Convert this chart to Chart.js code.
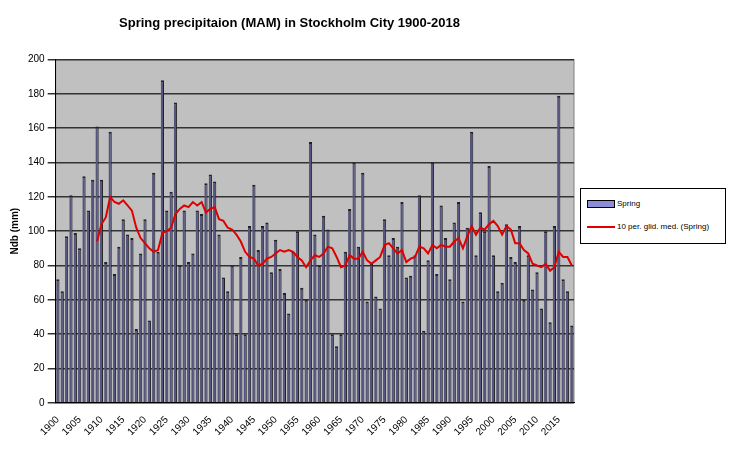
<!DOCTYPE html>
<html>
<head>
<meta charset="utf-8">
<script src="https://cdn.jsdelivr.net/npm/chart.js@4"></script>
<style>
  body { margin: 0; background: #fff; font-family: Arial, "Liberation Sans", sans-serif; }
  #wrap { position: relative; width: 732px; height: 449px; }
  #legend { position: absolute; left: 580px; top: 188px; width: 146px; height: 56px; border: 1px solid #000;
            font-size: 8px; box-sizing: border-box; background: #fff; }
  .row { position: absolute; left: 6px; display: flex; align-items: center; }
  .sw { width: 26px; height: 6px; background: #8c8cd8; border: 1px solid #000; margin-right: 2px; }
  .ln { width: 28px; height: 2px; background: #e00000; margin-right: 2px; }
</style>
</head>
<body>
<div id="wrap">
  <canvas id="c" width="732" height="449"></canvas>
  <div id="legend">
    <div class="row" style="top:10px"><span class="sw"></span>Spring</div>
    <div class="row" style="top:33px"><span class="ln"></span>10 per. glid. med. (Spring)</div>
  </div>
</div>
<script>
// Years 1900-2018
const years = [];
for (let y = 1900; y <= 2018; y++) years.push(String(y));

// Spring (MAM) precipitation, mm
const spring = [
  72, 65, 97, 121, 99, 90, 132, 112, 130, 161,
  130, 82, 158, 75, 91, 107, 98, 96, 43, 87,
  107, 48, 134, 88, 188, 112, 123, 175, 80, 112,
  82, 87, 112, 110, 128, 133, 129, 98, 73, 65,
  80, 40, 85, 40, 103, 127, 89, 103, 105, 76,
  95, 78, 64, 52, 88, 100, 67, 60, 152, 98,
  80, 109, 101, 40, 33, 40, 88, 113, 140, 91,
  134, 59, 81, 62, 55, 107, 86, 96, 91, 117,
  73, 74, 86, 121, 42, 83, 140, 75, 115, 96,
  72, 105, 117, 59, 102, 158, 86, 111, 100, 138,
  86, 65, 70, 104, 85, 82, 103, 60, 86, 66,
  76, 55, 100, 47, 103, 179, 72, 65, 45
];

// 10 period moving median, starts 1909
const median10 = [
  null, null, null, null, null, null, null, null, null, 94,
  104, 108, 120, 117, 116, 118, 115, 112, 102, 96,
  93, 90, 88, 89, 99, 100, 102, 110, 113, 115,
  114, 117, 115, 117, 111, 113, 114, 107, 106, 102,
  101, 98, 94, 88, 85, 84, 80, 81, 84, 85,
  87, 89, 88, 89, 88, 85, 83, 79, 83, 86,
  85, 87, 91, 90, 85, 79, 80, 86, 84, 84,
  88, 83, 81, 83, 85, 92, 93, 90, 87, 89,
  82, 84, 85, 91, 90, 87, 92, 90, 92, 91,
  91, 94, 96, 90, 97, 103, 98, 102, 101, 104,
  106, 103, 98, 103, 101, 93, 93, 89, 87, 81,
  80, 79, 81, 77, 79, 88, 85, 85, 80
];

const yTicks = [0, 20, 40, 60, 80, 100, 120, 140, 160, 180, 200];

const plotBg = {
  id: 'plotBg',
  beforeDraw(chart) {
    const a = chart.chartArea, ctx = chart.ctx;
    ctx.save();
    ctx.fillStyle = '#c0c0c0';
    ctx.fillRect(a.left, a.top, a.right - a.left, a.bottom - a.top);
    ctx.strokeStyle = '#808080';
    ctx.strokeRect(a.left, a.top, a.right - a.left, a.bottom - a.top);
    ctx.restore();
  }
};

new Chart(document.getElementById('c'), {
  data: {
    labels: years,
    datasets: [
      {
        type: 'line', label: '10 per. glid. med. (Spring)', data: median10,
        borderColor: '#e00000', borderWidth: 2, pointRadius: 0, tension: 0, order: 0
      },
      {
        type: 'bar', label: 'Spring', data: spring,
        backgroundColor: '#55557f', borderColor: '#222', borderWidth: { top: 2, left: 0, right: 1, bottom: 0 },
        barPercentage: 0.75, categoryPercentage: 1, order: 1
      }
    ]
  },
  options: {
    responsive: false,
    animation: false,
    layout: { padding: { left: 5, right: 158, top: 10, bottom: 8 } },
    plugins: {
      legend: { display: false },
      tooltip: { enabled: false },
      title: {
        display: true, text: 'Spring precipitaion (MAM) in Stockholm City 1900-2018',
        color: '#000', font: { family: 'Arial, Liberation Sans', size: 13, weight: 'bold' },
        padding: { top: 6, bottom: 28 }
      }
    },
    scales: {
      x: {
        grid: { display: false },
        border: { color: '#000' },
        ticks: {
          autoSkip: false, maxRotation: 45, minRotation: 45, color: '#000',
          font: { family: 'Arial, Liberation Sans', size: 10 },
          callback: (v, i) => (i % 5 === 0 ? years[i] : '')
        }
      },
      y: {
        min: 0, max: 200,
        afterBuildTicks: s => { s.ticks = yTicks.map(v => ({ value: v })); },
        grid: { color: '#333', lineWidth: 1.5 },
        border: { color: '#000' },
        ticks: { color: '#000', font: { family: 'Arial, Liberation Sans', size: 10 } },
        title: { display: true, text: 'Ndb (mm)', color: '#000',
                 font: { family: 'Arial, Liberation Sans', size: 10, weight: 'bold' } }
      }
    }
  },
  plugins: [plotBg]
});
</script>
</body>
</html>
